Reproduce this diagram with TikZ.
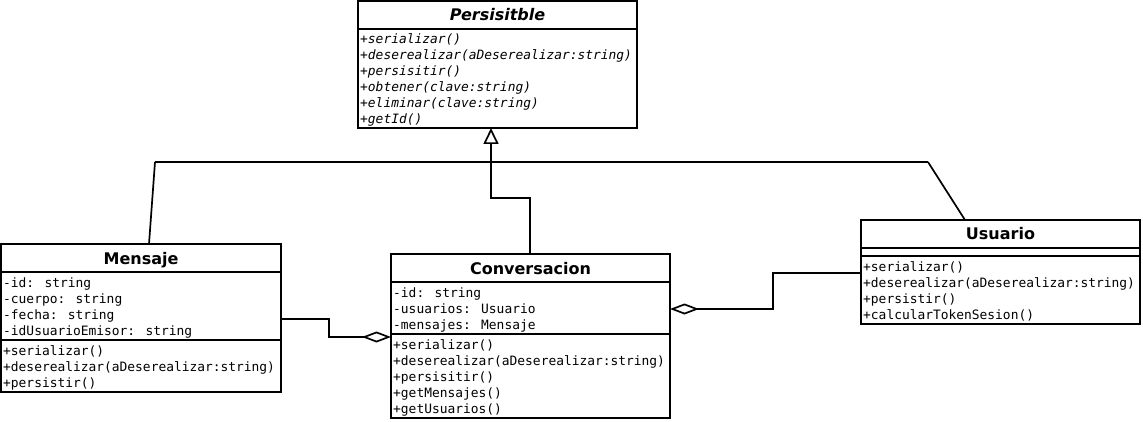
\documentclass[tikz,border=0pt]{standalone}
\usepackage{fontspec}
\setmainfont{DejaVu Sans}
\newfontfamily\monof{DejaVu Sans Mono}
\usetikzlibrary{arrows.meta}
\tikzset{
  cls/.style={draw, line width=1.7pt, inner sep=0pt, outer sep=0pt, anchor=north west, minimum width=279pt},
  ttl/.style={font=\fontsize{16}{19}\selectfont\bfseries, inner sep=0pt, anchor=base},
  mono/.style={font=\monof\fontsize{12.9}{16}\selectfont, inner sep=0pt, anchor=base west},
  monoit/.style={font=\monof\fontsize{12.9}{16}\selectfont\itshape, inner sep=0pt, anchor=base west},
  sep/.style={line width=1.7pt},
  conn/.style={line width=1.7pt},
}
\newcommand\members[5]{%
  \foreach \t [count=\i] in {#5} \node[#2] (#1-\i) at (#3, #4+16*\i-16) {\t};}
\begin{document}
\begin{tikzpicture}[x=1pt,y=-1pt]
\useasboundingbox (0,0) rectangle (1143,422);
% Persisitble
\node[cls, minimum height=127pt] (pers) at (358,1) {};
\node[ttl, font=\fontsize{16}{19}\selectfont\bfseries\itshape] (pers-t) at (497.5,20.5) {Persisitble};
\draw[sep] (pers.west |- 0,29) -- (pers.east |- 0,29);
\members{pm}{monoit}{360}{44}{+serializar(),+deserealizar(aDeserealizar:string),+persisitir(),+obtener(clave:string),+eliminar(clave:string),+getId()}
% Mensaje
\node[cls, minimum width=280pt, minimum height=148pt] (men) at (1,244) {};
\node[ttl] (men-t) at (141,264) {Mensaje};
\draw[sep] (men.west |- 0,272) -- (men.east |- 0,272);
\draw[sep] (men.west |- 0,340) -- (men.east |- 0,340);
\members{ma}{mono}{3}{287}{-id: string,-cuerpo: string,-fecha: string,-idUsuarioEmisor: string}
\members{mm}{mono}{3}{355}{+serializar(),+deserealizar(aDeserealizar:string),+persistir()}
% Conversacion
\node[cls, minimum height=164pt] (con) at (391,254) {};
\node[ttl] (con-t) at (530.5,274) {Conversacion};
\draw[sep] (con.west |- 0,282) -- (con.east |- 0,282);
\draw[sep] (con.west |- 0,334) -- (con.east |- 0,334);
\members{ca}{mono}{393}{297}{-id: string,-usuarios: Usuario,-mensajes: Mensaje}
\members{cm}{mono}{393}{349}{+serializar(),+deserealizar(aDeserealizar:string),+persisitir(),+getMensajes(),+getUsuarios()}
% Usuario
\node[cls, minimum height=104pt] (usu) at (861,220) {};
\node[ttl] (usu-t) at (1000.5,240) {Usuario};
\draw[sep] (usu.west |- 0,248) -- (usu.east |- 0,248);
\draw[sep] (usu.west |- 0,256) -- (usu.east |- 0,256);
\members{um}{mono}{863}{271}{+serializar(),+deserealizar(aDeserealizar:string),+persistir(),+calcularTokenSesion()}
% connectors
\coordinate (hl) at (155,162);
\coordinate (hr) at (928,162);
\draw[conn] (hl) -- (hr);
\draw[conn] (hl) -- (men.north west -| 149,0);
\draw[conn] (hr) -- (usu.north west -| 965,0);
\draw[conn, -{Triangle[open, length=16pt, width=15pt, line width=1.7pt]}]
  (con.north west -| 530,0) -- (530,198) -- (491,198) -- (pers.south west -| 491,0);
\draw[conn, -{Diamond[open, length=29pt, width=11pt, line width=1.7pt]}]
  (men.north east |- 0,319) -- (329,319) -- (329,337) -- (con.north west |- 0,337);
\draw[conn, -{Diamond[open, length=29pt, width=11pt, line width=1.7pt]}]
  (usu.north west |- 0,273) -- (773,273) -- (773,309) -- (con.north east |- 0,309);
\end{tikzpicture}
\end{document}
